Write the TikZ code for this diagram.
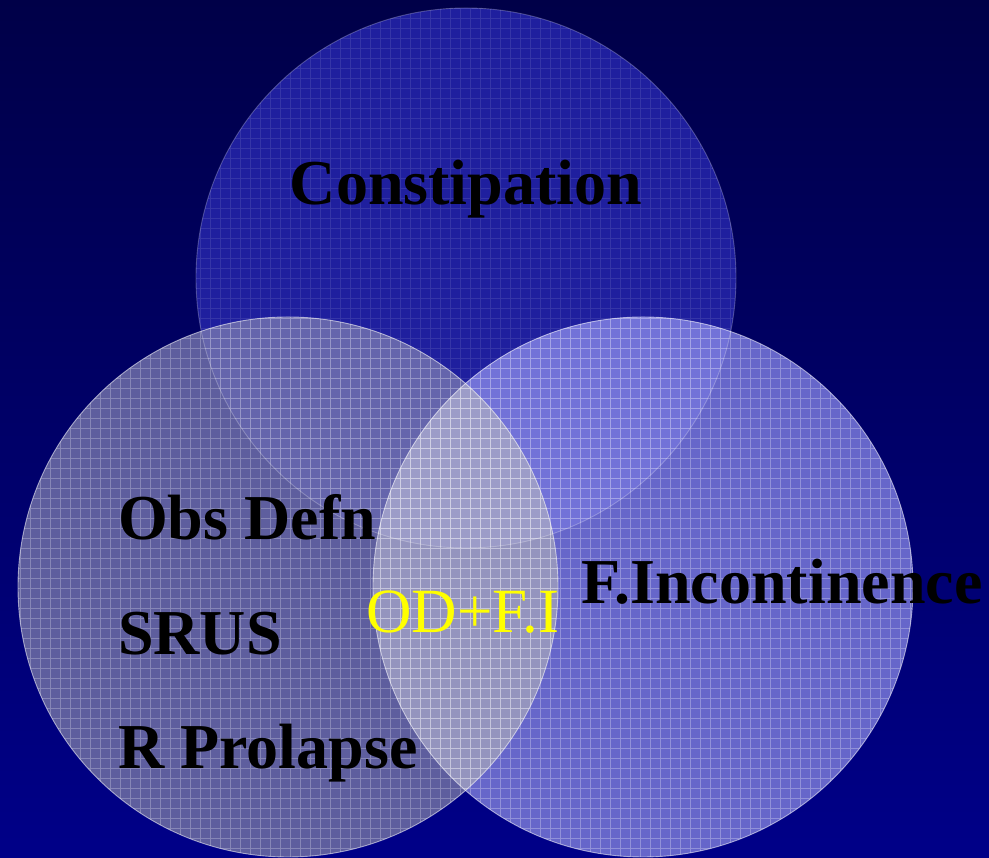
\documentclass[tikz,border=0pt]{standalone}
\usepackage{fontspec}
\setmainfont{Liberation Serif}
\definecolor{bgtop}{HTML}{000048}
\definecolor{bgbot}{HTML}{000088}
\definecolor{ctop}{HTML}{1F1F9E}
\definecolor{cleft}{HTML}{5E5E9E}
\definecolor{cright}{HTML}{6666CA}
\definecolor{ctl}{HTML}{6565AC}
\definecolor{ctr}{HTML}{7272D8}
\definecolor{clr}{HTML}{9494BE}
\definecolor{clrt}{HTML}{9C9CC8}
\definecolor{odyellow}{HTML}{FFFF00}
\tikzset{
  lbl/.style={font=\fontsize{64}{64}\selectfont\bfseries, text=black, inner sep=0pt},
  odlbl/.style={font=\fontsize{63}{63}\selectfont, text=odyellow, inner sep=0pt},
  rim/.style={draw=white, draw opacity=0.55, line width=0.9pt},
  gridline/.style={draw=white, line width=0.9pt}
}
\begin{document}
\begin{tikzpicture}[x=1pt,y=1pt]
\useasboundingbox (0,0) rectangle (989,858);
\shade[top color=bgtop, bottom color=bgbot] (0,0) rectangle (989,858);
% circle centres
\coordinate (T) at (466,580);
\coordinate (L) at (288,271);
\coordinate (R) at (643,271);
\def\rad{270}
% base fills
\fill[ctop] (T) circle (\rad);
\fill[cleft] (L) circle (\rad);
\fill[cright] (R) circle (\rad);
% overlaps
\begin{scope}
  \clip (T) circle (\rad);
  \fill[ctl] (L) circle (\rad);
  \fill[ctr] (R) circle (\rad);
\end{scope}
\begin{scope}
  \clip (L) circle (\rad);
  \fill[clr] (R) circle (\rad);
  \clip (T) circle (\rad);
  \fill[clrt] (R) circle (\rad);
\end{scope}
% grid textures
\begin{scope}
  \clip (T) circle (\rad);
  \draw[gridline, draw opacity=0.1] (190,2) grid[step=10] (740,858);
\end{scope}
\begin{scope}
  \clip (L) circle (\rad);
  \draw[gridline, draw opacity=0.25] (10,0) grid[step=10] (560,545);
\end{scope}
\begin{scope}
  \clip (R) circle (\rad);
  \draw[gridline, draw opacity=0.28] (370,0) grid[step=10] (920,545);
\end{scope}
% rims
\draw[rim, draw opacity=0.25] (T) circle (\rad);
\draw[rim] (L) circle (\rad);
\draw[rim] (R) circle (\rad);
% labels
\node[lbl, anchor=base] (con) at (466,653) {Constipation};
\node[lbl, anchor=base west] (obs) at (118,318) {Obs Defn};
\node[lbl, anchor=base west] (srus) at (118,203) {SRUS};
\node[lbl, anchor=base west] (rp) at (118,89) {R Prolapse};
\node[lbl, anchor=base west] (fi) at (581,254) {F.Incontinence};
\node[odlbl, anchor=base west] (od) at (366,225) {OD+F.I};
\end{tikzpicture}
\end{document}
